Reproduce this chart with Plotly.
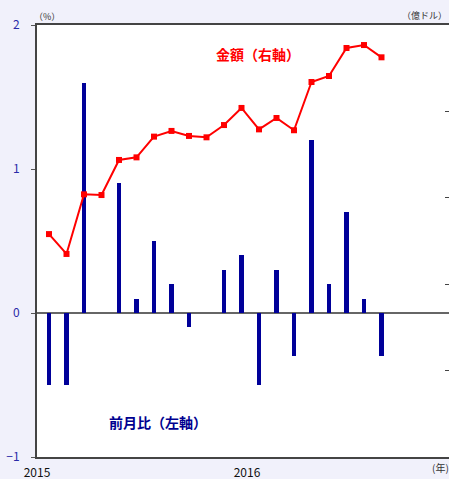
import plotly.graph_objects as go

# month index (0 = first month shown)
months = list(range(20))
mom_pct = [-0.5, -0.5, 1.6, 0.0, 0.9, 0.1, 0.5, 0.2, -0.1, 0.0,
           0.3, 0.4, -0.5, 0.3, -0.3, 1.2, 0.2, 0.7, 0.1, -0.3]
amount = [129.0, 117.5, 152.0, 151.6, 171.9, 173.4, 185.4, 188.7, 185.8, 185.0,
          192.1, 202.0, 189.6, 196.2, 189.1, 217.0, 220.5, 236.7, 238.4, 231.3]
year_ticks = [-0.6857, 11.3143]
year_labels = ["2015", "2016"]

FONT = "Noto Sans CJK JP"
fig = go.Figure()
fig.add_trace(go.Bar(x=months, y=mom_pct, width=0.27,
                     marker=dict(color="#000099", line=dict(width=0)),
                     yaxis="y", showlegend=False))
fig.add_trace(go.Scatter(x=months, y=amount, mode="lines+markers",
                         line=dict(color="#ff0000", width=2),
                         marker=dict(symbol="square", size=6, color="#ff0000"),
                         yaxis="y2", showlegend=False))

fig.update_layout(
    width=449, height=479,
    margin=dict(l=37, r=0, t=25, b=22, autoexpand=False),
    paper_bgcolor="#f1f1fb", plot_bgcolor="#ffffff",
    font=dict(family=FONT, size=12, color="#000000"),
    xaxis=dict(range=[-0.6857, 22.857], showgrid=False, zeroline=False,
               showline=True, linecolor="#444444", linewidth=2, mirror=True,
               tickvals=year_ticks, ticktext=year_labels, ticks="",
               ticklabelstandoff=4, automargin=False,
               tickfont=dict(size=12, color="#111111")),
    yaxis=dict(range=[-1, 2], tickvals=[-1, 0, 1, 2], showgrid=False,
               zeroline=True, zerolinecolor="#666666", zerolinewidth=2,
               showline=True, linecolor="#444444", linewidth=2,
               ticks="outside", ticklen=4, tickcolor="#555555",
               ticklabelstandoff=9, automargin=False,
               tickfont=dict(size=12, color="#2a2aa8")),
    yaxis2=dict(range=[0, 250], overlaying="y", side="right",
                tickvals=[0, 50, 100, 150, 200, 250], showticklabels=False,
                ticks="inside", ticklen=4, tickcolor="#444444",
                showgrid=False, zeroline=False, showline=False),
    bargap=0,
)

fig.add_annotation(text="（%）", x=47, y=17, showarrow=False,
                   font=dict(size=9, color="#333333"))
fig.add_annotation(text="金額（右軸）", x=258, y=54, showarrow=False,
                   font=dict(size=14, color="#ff0000", family=FONT))
fig.add_annotation(text="前月比（左軸）", x=158, y=422, showarrow=False,
                   font=dict(size=14, color="#000090", family=FONT))
fig.add_annotation(text="（億ドル）", x=424, y=15, showarrow=False,
                   font=dict(size=9, color="#333333"))
fig.add_annotation(text="(年)", x=440, y=467, showarrow=False,
                   font=dict(size=10, color="#333333"))

# convert pixel-positioned annotations to paper coords
W, H = 449, 479
L, R, T, B = 37, 0, 25, 22
pw, ph = W - L - R, H - T - B
for a in fig.layout.annotations:
    px, py = a.x, a.y
    a.x = (px - L) / pw
    a.y = (H - B - py) / ph
    a.xref = "paper"
    a.yref = "paper"
    a.xanchor = "center"
    a.yanchor = "middle"
    if "金額" in a.text or "前月比" in a.text:
        a.text = "<b>" + a.text + "</b>"

fig.write_html("out.html")
